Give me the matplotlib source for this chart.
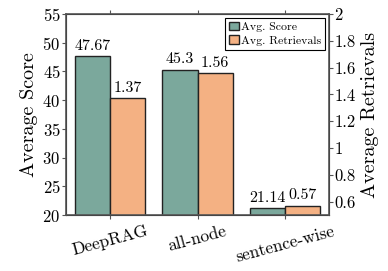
import matplotlib
matplotlib.use('Agg')
import matplotlib.pyplot as plt
import numpy as np

plt.rcParams['font.family'] = 'serif'
plt.rcParams['font.serif'] = ['cmr10', 'DejaVu Serif']
plt.rcParams['mathtext.fontset'] = 'cm'
plt.rcParams['axes.formatter.use_mathtext'] = True

methods = ['DeepRAG', 'all-node', 'sentence-wise']
scores = [47.67, 45.3, 21.14]
retrievals = [1.37, 1.56, 0.57]
score_labels = ['47.67', '45.3', '21.14']
retr_labels = ['1.37', '1.56', '0.57']

green = '#7ba89c'
orange = '#f4b183'
w = 0.4
x = np.arange(len(methods))

fig = plt.figure(figsize=(3.88, 2.71), dpi=100)
ax = fig.add_axes([66/388, 1 - 215/271, (329-66)/388, (215-14)/271])
ax2 = ax.twinx()

b1 = ax.bar(x - w/2, scores, w, color=green, edgecolor='#222222', linewidth=1, label='Avg. Score')
b2 = ax2.bar(x + w/2, retrievals, w, color=orange, edgecolor='#222222', linewidth=1, label='Avg. Retrievals')

ax.set_xlim(-0.5, 2.5)
ax.set_ylim(20, 55)
ax2.set_ylim(0.5, 2)
ax.set_yticks(np.arange(20, 56, 5))
ax2.set_yticks([0.6, 0.8, 1, 1.2, 1.4, 1.6, 1.8, 2])
ax2.set_yticklabels(['0.6', '0.8', '1', '1.2', '1.4', '1.6', '1.8', '2'])

ax.set_xticks(x)
ax.set_xticklabels(methods, rotation=15, fontsize=12.5)
ax.tick_params(axis='x', top=True, length=3, color='#555555', pad=3)
ax.tick_params(axis='y', labelsize=12, length=3, color='#555555', pad=1)
ax2.tick_params(axis='y', labelsize=12, length=3, color='#555555', pad=1)
for sp in ax2.spines.values():
    sp.set_color('#555555')
    sp.set_linewidth(1.2)

ax.set_ylabel('Average Score', fontsize=14.5, labelpad=3)
ax2.set_ylabel('Average Retrievals', fontsize=14.5, labelpad=4)

for xi, v, t in zip(x, scores, score_labels):
    ax.text(xi - w/2, v + 0.6, t, ha='center', va='bottom', fontsize=11.5)
for xi, v, t in zip(x, retrievals, retr_labels):
    ax2.text(xi + w/2, v + 0.025, t, ha='center', va='bottom', fontsize=11.5)

leg = ax2.legend([b1, b2], ['Avg. Score', 'Avg. Retrievals'], loc='upper right',
                 fontsize=8.5, handlelength=0.8, handletextpad=0.2, borderpad=0.35,
                 labelspacing=0.3, fancybox=False, edgecolor='black', framealpha=1,
                 borderaxespad=0.3)
leg.get_frame().set_linewidth(0.8)

fig.savefig('out.png', dpi=100)
